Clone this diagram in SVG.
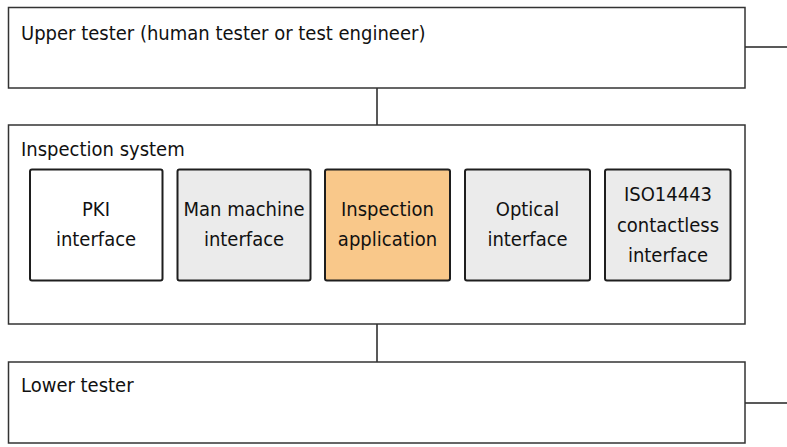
<svg xmlns="http://www.w3.org/2000/svg" width="787" height="447" viewBox="0 0 787 447">
<style>
.outer{fill:#fff;stroke:#333;stroke-width:1.5}
.inner{stroke:#1e1e1e;stroke-width:2}
.white{fill:#fff}
.gray{fill:#ebebeb}
.orange{fill:#f9c88a}
.conn{stroke:#222;stroke-width:1.5;fill:none}
text{font-family:"DejaVu Sans Condensed","DejaVu Sans",sans-serif;font-stretch:condensed;font-size:20px;fill:#111}
.c{text-anchor:middle}
</style>
<rect width="787" height="447" fill="#fff"/>
<g id="connectors">
<line class="conn" x1="377" y1="88" x2="377" y2="125"/>
<line class="conn" x1="377" y1="324" x2="377" y2="362"/>
<line class="conn" x1="745" y1="47" x2="787" y2="47"/>
<line class="conn" x1="745" y1="403" x2="787" y2="403"/>
</g>
<g id="upper-tester">
<rect class="outer" x="8.5" y="7.5" width="736.5" height="80.5"/>
<text x="21" y="40">Upper tester (human tester or test engineer)</text>
</g>
<g id="inspection-system">
<rect class="outer" x="8.5" y="125" width="736.5" height="199"/>
<text x="21" y="156">Inspection system</text>
</g>
<g id="pki-interface">
<rect class="inner white" x="30" y="169.5" width="132.5" height="111" rx="2"/>
<text class="c" x="96" y="216">PKI</text>
<text class="c" x="96" y="246">interface</text>
</g>
<g id="man-machine-interface">
<rect class="inner gray" x="177.5" y="169.5" width="133" height="111" rx="2"/>
<text class="c" x="244" y="216">Man machine</text>
<text class="c" x="244" y="246">interface</text>
</g>
<g id="inspection-application">
<rect class="inner orange" x="325" y="169.5" width="125" height="111" rx="2"/>
<text class="c" x="387.5" y="216">Inspection</text>
<text class="c" x="387.5" y="246">application</text>
</g>
<g id="optical-interface">
<rect class="inner gray" x="465" y="169.5" width="125" height="111" rx="2"/>
<text class="c" x="527.5" y="216">Optical</text>
<text class="c" x="527.5" y="246">interface</text>
</g>
<g id="iso14443-interface">
<rect class="inner gray" x="605" y="169.5" width="125.5" height="111" rx="2"/>
<text class="c" x="668" y="201">ISO14443</text>
<text class="c" x="668" y="232">contactless</text>
<text class="c" x="668" y="262">interface</text>
</g>
<g id="lower-tester">
<rect class="outer" x="8.5" y="362" width="736.5" height="81"/>
<text x="21" y="392">Lower tester</text>
</g>
</svg>
